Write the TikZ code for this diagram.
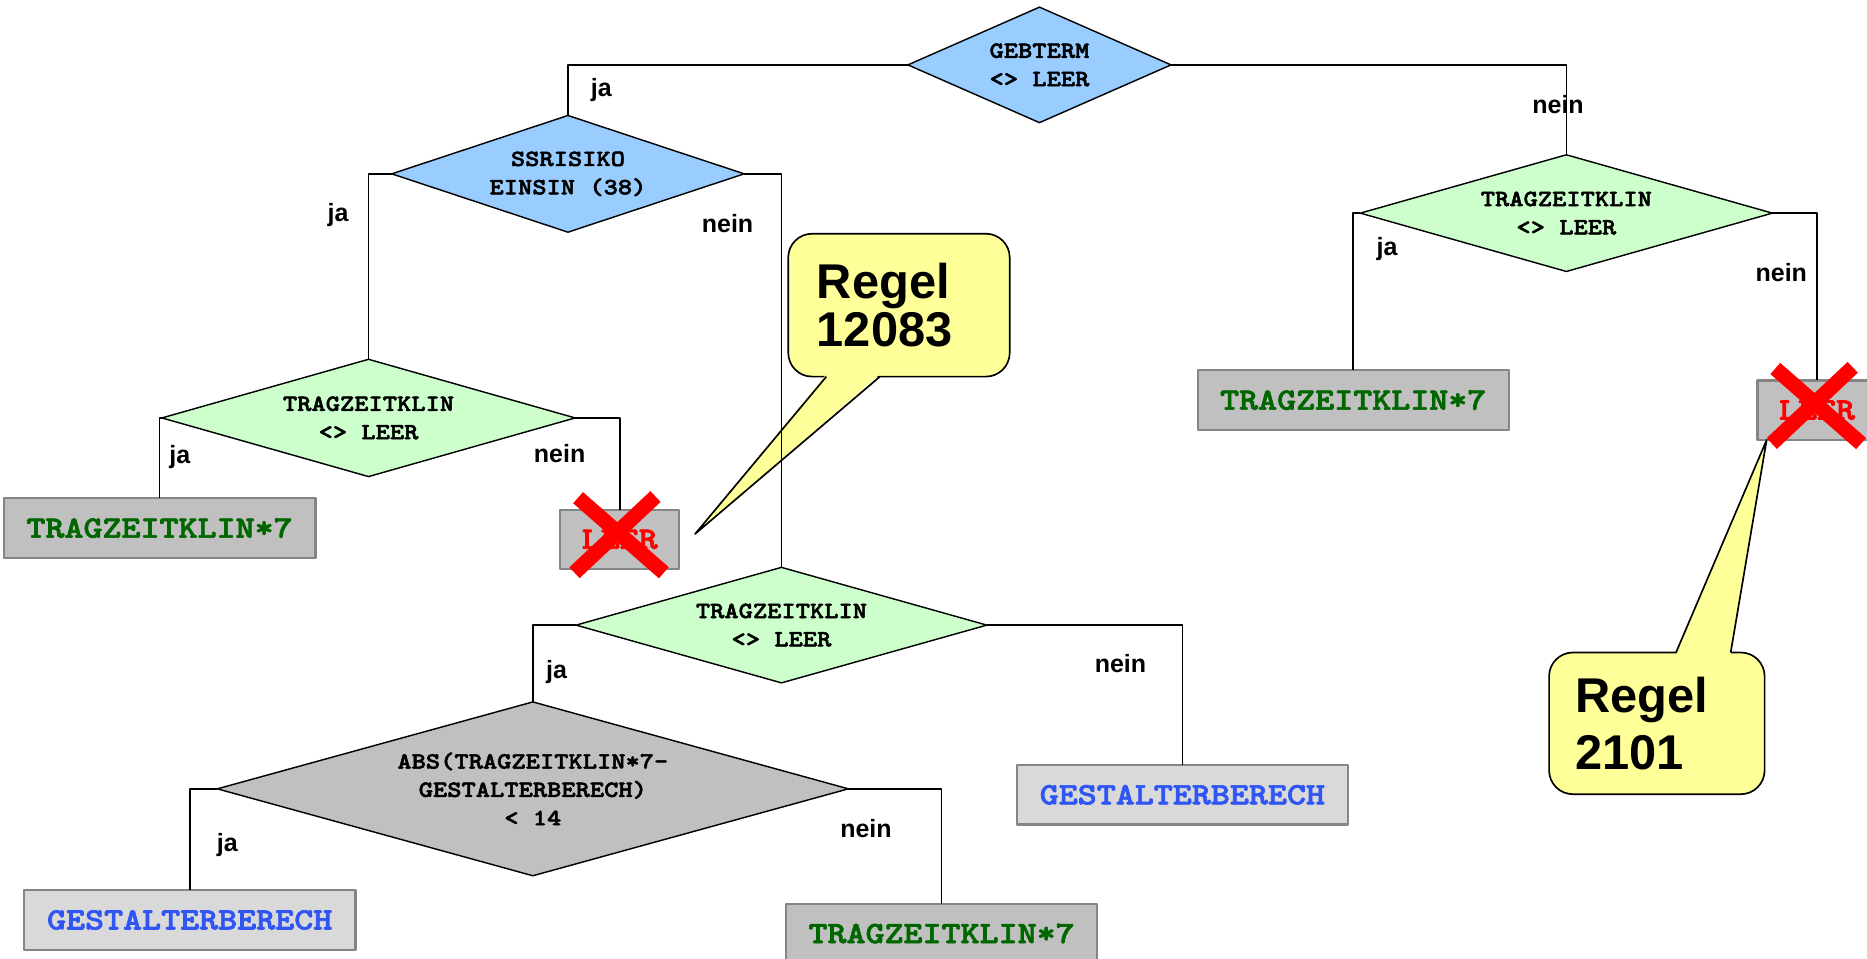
\documentclass[tikz,border=0pt]{standalone}
\usepackage{fontspec}
\setmainfont{Liberation Sans}
\newfontfamily\kurier[Extension=.otf,FakeStretch=1.17,FakeBold=2.2]{lmmonolt10-bold}
\usetikzlibrary{shapes.geometric}
\definecolor{hblau}{HTML}{99CCFF}
\definecolor{hgruen}{HTML}{CCFFCC}
\definecolor{grau}{HTML}{C0C0C0}
\definecolor{hgrau}{HTML}{D9D9D9}
\definecolor{rand}{HTML}{858585}
\definecolor{gelb}{HTML}{FFFF99}
\definecolor{dgruen}{HTML}{006600}
\definecolor{blau}{HTML}{2F55F5}
\begin{document}
\begin{tikzpicture}[x=1pt,y=-1pt,line join=round,
	raute/.style={diamond,draw,line width=1.2pt,inner sep=0pt,outer sep=0pt,align=center,
		font=\kurier\fontsize{19.5}{23.8}\selectfont},
	blatt/.style={rectangle,draw=rand,line width=1.8pt,fill=grau,text=dgruen,inner sep=0pt,
		outer sep=0pt,minimum height=50pt,font=\kurier\fontsize{26}{30}\selectfont},
	linie/.style={line width=1.4pt},
	lbl/.style={inner sep=0pt,font=\bfseries\fontsize{21}{24}\selectfont},
	regel/.style={rectangle,draw,fill=gelb,line width=1.4pt,rounded corners=20pt,
		inner sep=0pt,outer sep=0pt,align=left,font=\bfseries\fontsize{41}{40.6}\selectfont},
	kreuz/.style={red,line width=12.5pt}]
	\useasboundingbox (0,0) rectangle (1568,805.4);
	%==Rauten
	\node[raute,fill=hblau,minimum width=221pt,minimum height=97pt,shape aspect=2.3] (geb) at (873,54.5) {GEBTERM\\<> LEER};
	\node[raute,fill=hblau,minimum width=296pt,minimum height=98pt,shape aspect=3] (ssr) at (477,146) {SSRISIKO\\EINSIN (38)};
	\node[raute,fill=hgruen,minimum width=347pt,minimum height=98.5pt,shape aspect=3.5] (tzl) at (309.5,351) {TRAGZEITKLIN\\<> LEER};
	\node[raute,fill=hgruen,minimum width=346pt,minimum height=98pt,shape aspect=3.5] (tzr) at (1315.5,179) {TRAGZEITKLIN\\<> LEER};
	\node[raute,fill=hgruen,minimum width=345pt,minimum height=97pt,shape aspect=3.5] (tzm) at (656.3,525) {TRAGZEITKLIN\\<> LEER};
	\node[raute,fill=grau,minimum width=530pt,minimum height=146pt,shape aspect=3.6] (abs) at (447.5,662.5) {ABS(TRAGZEITKLIN*7-\\GESTALTERBERECH)\\< 14};
	%==Blaetter
	\node[blatt,minimum width=262pt] (tzk1) at (134,443.5) {TRAGZEITKLIN*7};
	\node[blatt,minimum width=100pt,text=red] (leer1) at (520.5,453) {LEER};
	\node[blatt,minimum width=261pt] (tzk2) at (1136.5,336) {TRAGZEITKLIN*7};
	\node[blatt,minimum width=100pt,text=red] (leer2) at (1526,344.5) {LEER};
	\node[blatt,minimum width=278.5pt,fill=hgrau,text=blau] (gest1) at (159.3,772.6) {GESTALTERBERECH};
	\node[blatt,minimum width=278pt,fill=hgrau,text=blau] (gest2) at (993,667.5) {GESTALTERBERECH};
	\node[blatt,minimum width=261.5pt] (tzk3) at (790.8,784) {TRAGZEITKLIN*7};
	%==Sprechblasen
	\node[regel,minimum width=186pt,minimum height=120pt,text width=138pt] (regelA) at (755,256.3) {Regel\\12083};
	\node[regel,minimum width=181pt,minimum height=119pt,text width=137pt,
		font=\bfseries\fontsize{41}{47.6}\selectfont] (regelB) at (1391.5,607.5) {Regel\\2101};
	\coordinate (spitzeA) at (583.7,448.5);
	\coordinate (spitzeB) at (1483.7,369.5);
	\fill[gelb] ([xshift=32pt,yshift=2pt]regelA.south west)--(spitzeA)--([xshift=77pt,yshift=2pt]regelA.south west)--cycle;
	\draw[linie] ([xshift=32pt]regelA.south west)--(spitzeA)--([xshift=77pt]regelA.south west);
	\fill[gelb] ([xshift=106.6pt,yshift=-2pt]regelB.north west)--(spitzeB)--([xshift=152.5pt,yshift=-2pt]regelB.north west)--cycle;
	\draw[linie] ([xshift=106.6pt]regelB.north west)--(spitzeB)--([xshift=152.5pt]regelB.north west);
	%==Verbindungen
	\draw[linie] (geb.west)-|(ssr.north) (geb.east)-|(tzr.north);
	\draw[linie] (ssr.west)-|(tzl.north) (ssr.east)-|(tzm.north);
	\draw[linie] (tzl.west)-|(tzk1.north) (tzl.east)-|(leer1.north);
	\draw[linie] (tzr.west)-|(tzk2.north) (tzr.east)-|(leer2.north);
	\draw[linie] (tzm.west)-|(abs.north) (tzm.east)-|(gest2.north);
	\draw[linie] (abs.west)-|(gest1.north) (abs.east)-|(tzk3.north);
	\node[lbl] (j1) at (505,76) {ja};
	\node[lbl] (n1) at (1308.5,88) {nein};
	\node[lbl] (j2) at (284,181) {ja};
	\node[lbl] (n2) at (611,187.5) {nein};
	\node[lbl] (j3) at (151,383.5) {ja};
	\node[lbl] (n3) at (470,381) {nein};
	\node[lbl] (j4) at (1165,209.5) {ja};
	\node[lbl] (n4) at (1496,229) {nein};
	\node[lbl] (j5) at (467.5,564) {ja};
	\node[lbl] (n5) at (941,557.7) {nein};
	\node[lbl] (j6) at (191,710) {ja};
	\node[lbl] (n6) at (727.3,696.2) {nein};
	%==Kreuze
	\foreach \n in {leer1,leer2}
	\draw[kreuz] ([shift={(-35,-35)}]\n.center)--([shift={(37,28)}]\n.center)
	([shift={(30,-36)}]\n.center)--([shift={(-38,28)}]\n.center);
\end{tikzpicture}
\end{document}
